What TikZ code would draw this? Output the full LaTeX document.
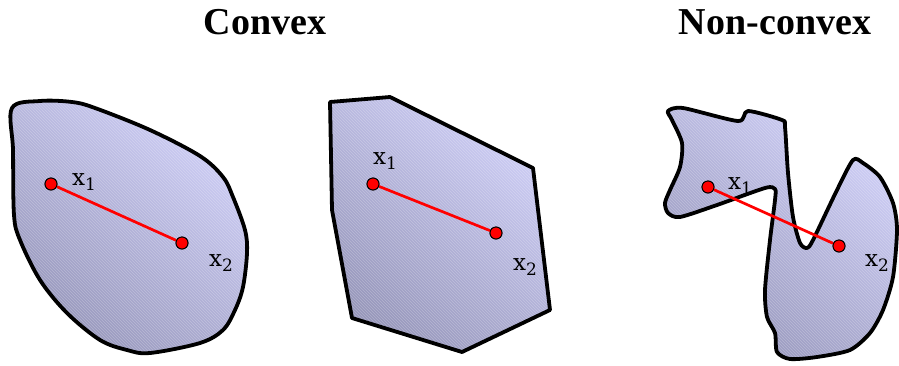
\documentclass[tikz,border=0pt]{standalone}
\usepackage{fontspec}
\setmainfont{Liberation Serif}
\newfontfamily\labfont{DejaVu Serif}
\usetikzlibrary{patterns}
\definecolor{lightlav}{HTML}{CFCFF7}
\definecolor{darklav}{HTML}{9696BA}
\tikzset{
  region/.style={top color=lightlav, bottom color=darklav, shading angle=-40},
  hatch/.style={pattern=north west lines, pattern color=white},
  outline/.style={draw=black, line width=3.8pt, line join=round},
  seg/.style={draw=red, line width=2.7pt},
  pt/.style={circle, fill=red, draw=black, line width=0.9pt, inner sep=0pt, minimum size=12pt},
  lab/.style={font=\labfont\fontsize{23}{23}\selectfont, inner sep=0pt},
  ttl/.style={font=\bfseries\fontsize{38}{38}\selectfont, inner sep=0pt}
}
\newcommand{\xlab}[1]{x\raisebox{-0.4ex}{\fontsize{17}{17}\selectfont #1}}
\begin{document}
\begin{tikzpicture}[x=1pt,y=-1pt]
\useasboundingbox (0,0) rectangle (899,365);
\node[ttl] (t1) at (265,22) {Convex};
\node[ttl] (t2) at (775,22) {Non-convex};
% shape 1
\def\shapeA{plot[smooth cycle, tension=0.55] coordinates {(12,108) (40,101) (72,102) (95,108) (150,130) (200,156) (223,177) (233,197) (245,230) (247,253) (243,287) (235,310) (223,330) (200,343) (150,353) (127,350) (100,340) (67,313) (40,280) (20,240) (14,215) (13,150)}}
\shade[region] \shapeA;
\fill[hatch, opacity=0.25] \shapeA;
\draw[outline] \shapeA;
% shape 2
\def\shapeB{(330,102) -- (390,97) -- (533,168) -- (550,310) -- (462,352) -- (352,318) -- (332,210) -- cycle}
\shade[region] \shapeB;
\fill[hatch, opacity=0.25] \shapeB;
\draw[outline] \shapeB;
% shape 3
\def\shapeC{plot[smooth cycle, tension=0.45] coordinates {(668,111) (683,108) (738,121) (748,111) (782,120) (785,127) (788,173) (793,217) (800,243) (807,248) (813,240) (837,190) (853,160) (863,163) (880,177) (893,203) (897,230) (893,277) (883,310) (870,333) (850,350) (817,357) (790,359) (777,352) (775,333) (767,317) (765,290) (770,240) (775,200) (775,189) (765,188) (717,205) (680,217) (668,213) (665,203) (670,190) (680,167) (682,143) (672,120)}}
\shade[region] \shapeC;
\fill[hatch, opacity=0.25] \shapeC;
\draw[outline] \shapeC;
% points and segments
\node[pt] (a1) at (51,184) {};
\node[pt] (a2) at (182,243) {};
\draw[seg] (a1) -- (a2);
\node[pt] at (a1) {};
\node[pt] at (a2) {};
\node[lab] (la1) at (84,182) {\xlab{1}};
\node[lab] (la2) at (221,263) {\xlab{2}};
\node[pt] (b1) at (373,184) {};
\node[pt] (b2) at (496,233) {};
\draw[seg] (b1) -- (b2);
\node[pt] at (b1) {};
\node[pt] at (b2) {};
\node[lab] (lb1) at (385,161) {\xlab{1}};
\node[lab] (lb2) at (525,267) {\xlab{2}};
\node[pt] (c1) at (708,187) {};
\node[pt] (c2) at (839,246) {};
\draw[seg] (c1) -- (c2);
\node[pt] at (c1) {};
\node[pt] at (c2) {};
\node[lab] (lc1) at (740,186) {\xlab{1}};
\node[lab] (lc2) at (877,263) {\xlab{2}};
\end{tikzpicture}
\end{document}
